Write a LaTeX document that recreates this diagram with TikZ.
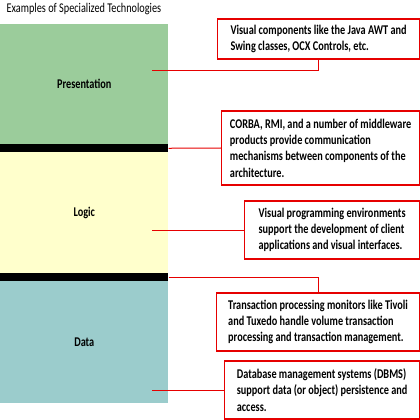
\documentclass[tikz,border=0pt]{standalone}
\usepackage{fontspec}
\setmainfont{Carlito}[FakeStretch=0.77]
\usetikzlibrary{positioning}
\definecolor{presgreen}{RGB}{155,204,155}
\definecolor{logicyellow}{RGB}{255,255,204}
\definecolor{datateal}{RGB}{155,204,204}
\definecolor{notered}{RGB}{230,0,0}
\tikzset{
  tier/.style={anchor=north west, inner sep=0pt, minimum width=126pt,
               font=\fontsize{10}{12}\selectfont\bfseries},
  tierbar/.style={anchor=north west, inner sep=0pt, fill=black,
                  minimum width=126pt, minimum height=6pt},
  note/.style={draw=notered, line width=0.9pt, fill=white, anchor=west,
               align=left, inner xsep=5pt, inner ysep=3pt, minimum width=#1,
               font=\fontsize{10}{12.2}\selectfont\bfseries},
  link/.style={draw=notered, line width=0.75pt},
}

\begin{document}
\begin{tikzpicture}[x=0.75pt, y=-0.75pt]
    \useasboundingbox (0,0) rectangle (420,420);
    \node[anchor=base west, font=\fontsize{10}{11}\selectfont] (title) at (2,13)
      {Examples of Specialized Technologies};
    % tiers
    \node[tier, fill=presgreen, minimum height=90pt] (pres) at (0,24) {Presentation};
    \node[tierbar] (bar1) at (0,144) {};
    \node[tier, fill=logicyellow, minimum height=90.75pt] (logic) at (0,152) {Logic};
    \node[tierbar] (bar2) at (0,273) {};
    \node[tier, fill=datateal, minimum height=91.5pt] (data) at (0,281) {Data};
    % notes
    \node[note=151.5pt, minimum height=30pt] (ntools) at (217,39)
      {Visual components like the Java AWT and\\ Swing classes, OCX Controls, etc.};
    \node[note=148.5pt, minimum height=55.5pt] (nmiddle) at (221,148)
      {CORBA, RMI, and a number of middleware\\ products provide communication\\
       mechanisms between components of the\\ architecture.};
    \node[note=131.25pt, minimum height=43.5pt] (nvisual) at (244,230)
      {Visual programming environments\\ support the development of client\\
       applications and visual interfaces.};
    \node[note=152.25pt, minimum height=43.5pt] (ntrans) at (216,322)
      {Transaction processing monitors like Tivoli\\ and Tuxedo handle volume transaction\\
       processing and transaction management.};
    \node[note=146.25pt, minimum height=43.5pt] (ndbms) at (224,390)
      {Database management systems (DBMS)\\ support data (or object) persistence and\\ access.};
    % connectors
    \coordinate (cpres) at (152,71);
    \coordinate (clogic) at (152,230);
    \coordinate (cdata) at (152,390);
    \draw[link] (cpres) -| (ntools.south);
    \draw[link] (bar1.east) -- (nmiddle.west);
    \draw[link] (clogic) -- (nvisual.west);
    \draw[link] (bar2.east) -| (ntrans.north);
    \draw[link] (cdata) -- (ndbms.west);
\end{tikzpicture}
\end{document}
